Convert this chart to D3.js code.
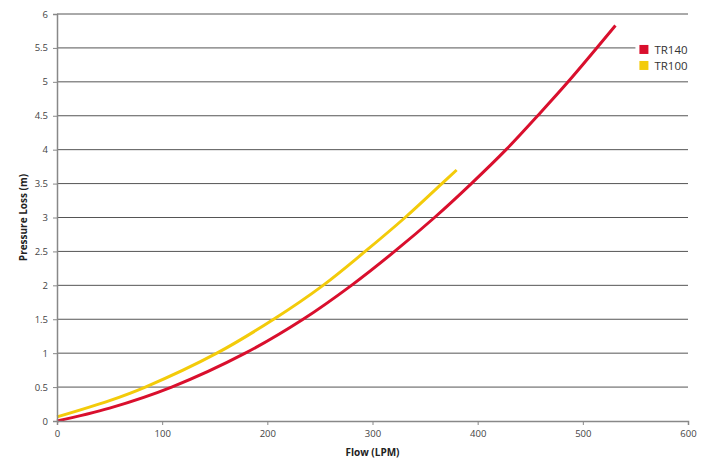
<!DOCTYPE html>
<html>
<head>
<meta charset="utf-8">
<script src="https://cdn.jsdelivr.net/npm/d3@7"></script>
<style>
  body { margin: 0; background: #fff; }
  text { font-family: "Open Sans", sans-serif; }
</style>
</head>
<body>
<div id="wrapper"></div>
<script>
// values (flow in LPM, pressure loss in m)
const tr140Flow = [0, 50, 109, 179, 234, 280, 321, 359, 394, 427, 457, 486, 531]
const tr140Loss = [0, 0.19, 0.5, 1.0, 1.5, 2.0, 2.5, 3.0, 3.5, 4.0, 4.5, 5.0, 5.83]
const tr100Flow = [0, 50, 84, 152, 206, 253, 293, 331, 366, 380]
const tr100Loss = [0.06, 0.3, 0.5, 1.0, 1.5, 2.0, 2.5, 3.0, 3.5, 3.7]
const seriesNames = ["TR140", "TR100"]
const xTicks = [0, 100, 200, 300, 400, 500, 600]
const yTicks = [0, 0.5, 1, 1.5, 2, 2.5, 3, 3.5, 4, 4.5, 5, 5.5, 6]

function drawChart() {
    const colors = ["#d90f2d", "#f3cb0a"]
    const series = [
        d3.zip(tr140Flow, tr140Loss),
        d3.zip(tr100Flow, tr100Loss),
    ]

    let dimensions = {
        width: 716,
        height: 468,
        margin: { top: 14, right: 28, bottom: 47, left: 57 },
    }
    dimensions.boundedWidth = dimensions.width - dimensions.margin.left - dimensions.margin.right
    dimensions.boundedHeight = dimensions.height - dimensions.margin.top - dimensions.margin.bottom

    const wrapper = d3.select("#wrapper")
        .append("svg")
            .attr("width", dimensions.width)
            .attr("height", dimensions.height)
    const bounds = wrapper.append("g")
        .attr("transform", `translate(${dimensions.margin.left},${dimensions.margin.top})`)

    const xScale = d3.scaleLinear()
        .domain([0, 600])
        .range([0, dimensions.boundedWidth])
    const yScale = d3.scaleLinear()
        .domain([0, 6])
        .range([dimensions.boundedHeight, 0])

    // gridlines
    bounds.append("g")
        .selectAll("line")
        .data(yTicks.filter(d => d > 0))
        .join("line")
            .attr("x1", 0)
            .attr("x2", dimensions.boundedWidth)
            .attr("y1", d => yScale(d))
            .attr("y2", d => yScale(d))
            .attr("stroke", "#555")
            .attr("stroke-width", 1)

    // legend box hides the gridlines behind it
    const legend = bounds.append("g")
        .attr("transform", `translate(${xScale(550)},${yScale(5.75)})`)
    legend.append("rect")
        .attr("width", dimensions.boundedWidth - xScale(550) + 1)
        .attr("height", 50)
        .attr("fill", "#fff")
    seriesNames.forEach((name, i) => {
        legend.append("rect")
            .attr("x", 4)
            .attr("y", 14 + i * 16)
            .attr("width", 9)
            .attr("height", 9)
            .attr("fill", colors[i])
        legend.append("text")
            .attr("x", 19)
            .attr("y", 23 + i * 16)
            .attr("font-size", 11.5)
            .attr("fill", "#333")
            .text(name)
    })

    // lines
    const lineGenerator = d3.line()
        .x(d => xScale(d[0]))
        .y(d => yScale(d[1]))
        .curve(d3.curveCatmullRom.alpha(0.5))
    bounds.selectAll(".series")
        .data(series)
        .join("path")
            .attr("class", "series")
            .attr("d", lineGenerator)
            .attr("fill", "none")
            .attr("stroke", (d, i) => colors[i])
            .attr("stroke-width", 3)
            .attr("stroke-linecap", "butt")

    // axes
    const yAxis = bounds.append("g")
        .call(d3.axisLeft(yScale).tickValues(yTicks).tickSize(4).tickPadding(5).tickFormat(d3.format("")))
    const xAxis = bounds.append("g")
        .attr("transform", `translate(0,${dimensions.boundedHeight})`)
        .call(d3.axisBottom(xScale).tickValues(xTicks).tickSize(4).tickPadding(5))
    ;[yAxis, xAxis].forEach(ax => {
        ax.select(".domain").attr("stroke", "#888").attr("stroke-width", 1.5)
        ax.selectAll(".tick line").attr("stroke", "#888")
        ax.selectAll(".tick text")
            .attr("font-family", "Open Sans, sans-serif")
            .attr("font-size", 9.5)
            .attr("fill", "#444")
    })

    // axis titles
    bounds.append("text")
        .attr("x", dimensions.boundedWidth / 2)
        .attr("y", dimensions.boundedHeight + 35)
        .attr("text-anchor", "middle")
        .attr("font-size", 10)
        .attr("font-weight", "bold")
        .attr("fill", "#222")
        .text("Flow (LPM)")
    bounds.append("text")
        .attr("transform", `translate(-30,${dimensions.boundedHeight / 2}) rotate(-90)`)
        .attr("text-anchor", "middle")
        .attr("font-size", 10)
        .attr("font-weight", "bold")
        .attr("fill", "#222")
        .text("Pressure Loss (m)")
}
drawChart()
</script>
</body>
</html>
